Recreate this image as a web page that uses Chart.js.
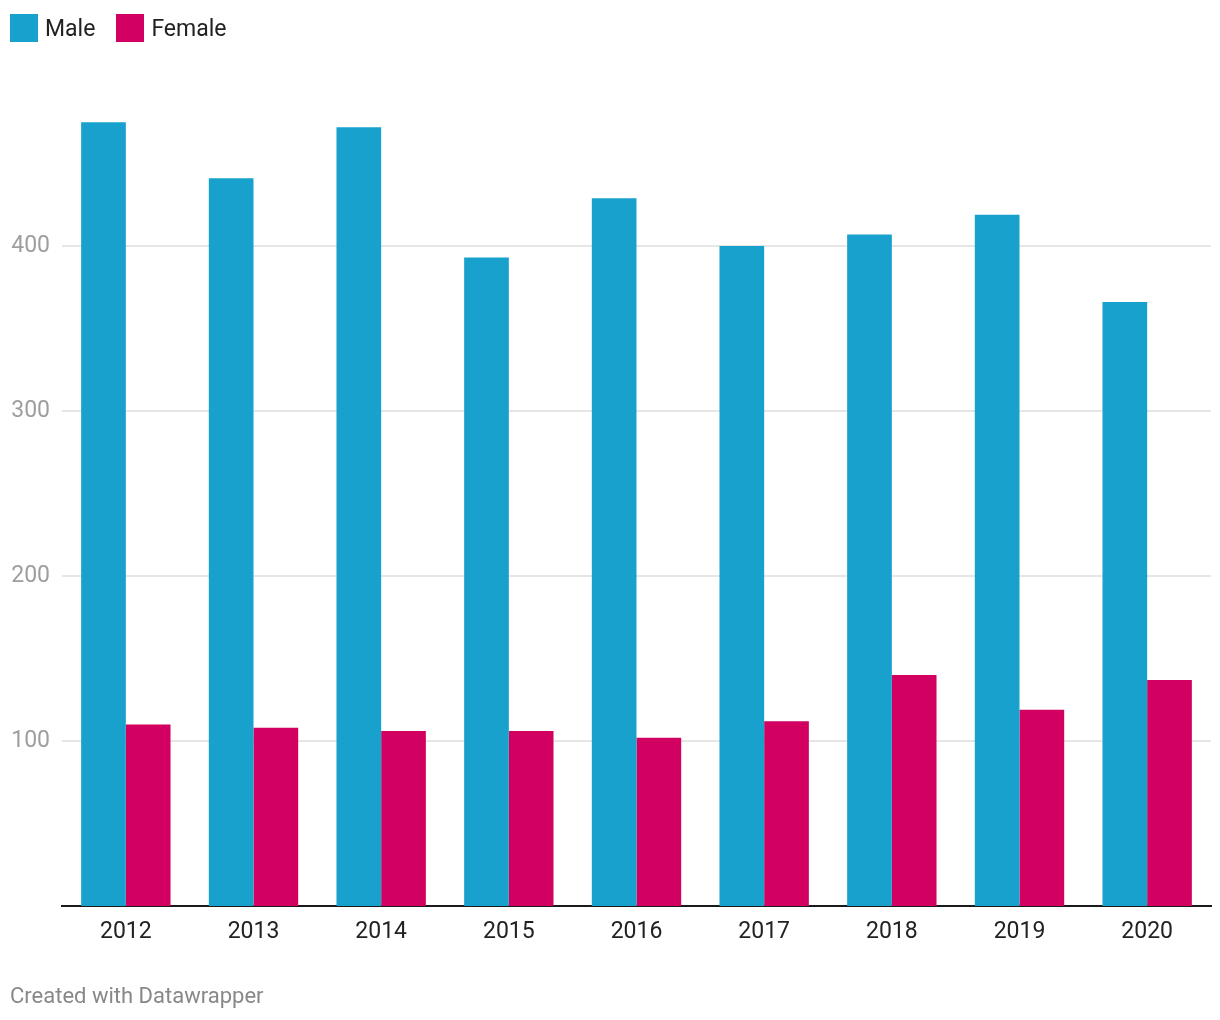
<!DOCTYPE html>
<html>
<head>
<meta charset="utf-8">
<script src="https://cdn.jsdelivr.net/npm/chart.js@4"></script>
<style>
  body { margin: 0; background: #fff; font-family: Roboto, sans-serif; }
  #wrap { position: relative; width: 1220px; height: 1020px; }
  #legend { position: absolute; left: 10px; top: 14px; display: flex; align-items: center; font-size: 23px; color: #222; }
  .item { display: flex; align-items: center; margin-right: 21px; }
  .sw { width: 28px; height: 28px; margin-right: 7px; }
  #foot { position: absolute; left: 10px; top: 983px; font-size: 22px; color: #888; }
</style>
</head>
<body>
<div id="wrap">
  <canvas id="chart" width="1220" height="1020"></canvas>
  <div id="legend"></div>
  <div id="foot">Created with Datawrapper</div>
</div>
<script>
// datos
const years = ["2012", "2013", "2014", "2015", "2016", "2017", "2018", "2019", "2020"]
const male = [475, 441, 472, 393, 429, 400, 407, 419, 366]
const female = [110, 108, 106, 106, 102, 112, 140, 119, 137]
const yTicks = [100, 200, 300, 400]

const colorMale = "#18a1cd"
const colorFemale = "#d10061"

/* leyenda en html */
const legend = document.querySelector("#legend")
;[["Male", colorMale], ["Female", colorFemale]].forEach(([name, color]) => {
    const item = document.createElement("div")
    item.className = "item"
    item.innerHTML = '<div class="sw" style="background:' + color + '"></div><span>' + name + '</span>'
    legend.appendChild(item)
})

const ctx = document.querySelector("#chart").getContext("2d")

const chart = new Chart(ctx, {
    type: "bar",
    data: {
        labels: years,
        datasets: [
            { label: "Male", data: male, backgroundColor: colorMale },
            { label: "Female", data: female, backgroundColor: colorFemale },
        ]
    },
    options: {
        responsive: false,
        animation: false,
        layout: { padding: { top: 114, right: 9, left: 0, bottom: 0 } },
        datasets: { bar: { categoryPercentage: 0.7, barPercentage: 1.0 } },
        plugins: { legend: { display: false }, tooltip: { enabled: false } },
        scales: {
            x: {
                grid: { display: false, drawTicks: false },
                border: { display: true, color: "#1a1a1a", width: 2 },
                ticks: { color: "#222", padding: 12, font: { family: "Roboto", size: 23 } },
                afterFit: (scale) => { scale.height = 114 },
            },
            y: {
                min: 0,
                max: 480,
                afterBuildTicks: (scale) => {
                    scale.ticks = yTicks.map(v => ({ value: v }))
                },
                grid: { color: "#e6e6e6", lineWidth: 2, drawTicks: false },
                border: { display: false },
                ticks: { color: "#9e9e9e", padding: 12, font: { family: "Roboto", size: 23 } },
                afterFit: (scale) => { scale.width = 62 },
            },
        },
    },
})
</script>
</body>
</html>
